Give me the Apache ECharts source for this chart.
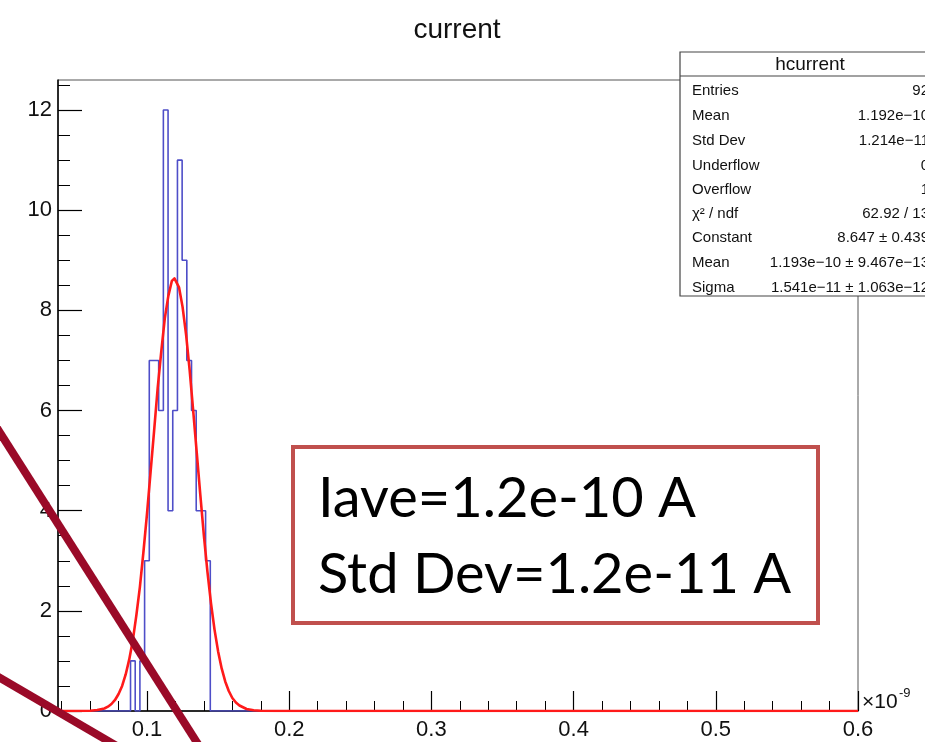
<!DOCTYPE html>
<html>
<head>
<meta charset="utf-8">
<script src="https://cdn.jsdelivr.net/npm/echarts@6/dist/echarts.min.js"></script>
<style>html,body{margin:0;padding:0;background:#fff}#c{width:925px;height:742px}</style>
</head>
<body>
<div id="c"></div>
<script>
// ---- data (x in units of 1e-9 A) ----
const binLowEdges = [0.0851, 0.0884, 0.0917, 0.0950, 0.0983, 0.1016, 0.1049, 0.1082, 0.1115,
                     0.1148, 0.1181, 0.1214, 0.1247, 0.1280, 0.1313, 0.1346, 0.1379, 0.1412];
const binHighEdge = 0.1445;
const binCounts   = [0, 1, 0, 1, 3, 7, 7, 6, 12, 4, 6, 11, 9, 7, 6, 4, 4, 3];
const fitX = [0.0374, 0.050, 0.060, 0.065, 0.070, 0.0725, 0.075, 0.0775, 0.080, 0.0825, 0.085, 0.0875,
              0.090, 0.0925, 0.095, 0.0975, 0.100, 0.1025, 0.105, 0.1075, 0.110, 0.1125, 0.115, 0.1175,
              0.1193, 0.120, 0.1225, 0.125, 0.1275, 0.130, 0.1325, 0.135, 0.1375, 0.140, 0.1425, 0.145,
              0.1475, 0.150, 0.1525, 0.155, 0.1575, 0.160, 0.1625, 0.165, 0.170, 0.175, 0.180, 0.190,
              0.300, 0.450, 0.600];
const fitY = [0.0, 0.0, 0.005, 0.02, 0.05, 0.086, 0.14, 0.22, 0.34, 0.50, 0.73, 1.03,
              1.41, 1.91, 2.48, 3.18, 3.94, 4.77, 5.60, 6.45, 7.17, 7.84, 8.29, 8.59,
              8.64, 8.64, 8.46, 8.07, 7.51, 6.80, 5.99, 5.15, 4.31, 3.50, 2.78, 2.15,
              1.62, 1.19, 0.85, 0.59, 0.40, 0.26, 0.17, 0.11, 0.04, 0.015, 0.004, 0.0,
              0.0, 0.0, 0.0];
const xTickLabels = [0.1, 0.2, 0.3, 0.4, 0.5, 0.6];
const xMinorTicks = [0.04, 0.06, 0.08, 0.12, 0.14, 0.16, 0.18, 0.22, 0.24, 0.26, 0.28, 0.32, 0.34, 0.36, 0.38,
                     0.42, 0.44, 0.46, 0.48, 0.52, 0.54, 0.56, 0.58];
const yTickLabels = [0, 2, 4, 6, 8, 10, 12];
const yMinorTicks = [0.5, 1, 1.5, 2.5, 3, 3.5, 4.5, 5, 5.5, 6.5, 7, 7.5, 8.5, 9, 9.5, 10.5, 11, 11.5, 12.5];
const statLabels = ['Entries', 'Mean', 'Std Dev', 'Underflow', 'Overflow', 'χ² / ndf', 'Constant', 'Mean', 'Sigma'];
const statValues = ['92', '1.192e−10', '1.214e−11', '0', '1', '62.92 / 13', '8.647 ± 0.439',
                    '1.193e−10 ± 9.467e−13', '1.541e−11 ± 1.063e−12'];
const X_MIN = 0.0374, X_MAX = 0.6, Y_MAX = 12.6;

// histogram outline as a step line
const histData = [[X_MIN, 0]];
binLowEdges.forEach((e, i) => histData.push([e, binCounts[i]]));
histData.push([binHighEdge, 0]);
histData.push([X_MAX, 0]);
const fitData = fitX.map((x, i) => [x, fitY[i]]);

const FONT = 'Liberation Sans';
const chart = echarts.init(document.getElementById('c'), null, {renderer: 'canvas'});

const statChildren = [
  {type: 'rect', shape: {x: 680, y: 52, width: 262, height: 244}, style: {fill: '#fff', stroke: '#444', lineWidth: 1.2}},
  {type: 'line', shape: {x1: 680, y1: 76, x2: 942, y2: 76}, style: {stroke: '#444', lineWidth: 1.2}},
  {type: 'text', x: 810, y: 65, style: {text: 'hcurrent', font: '19px ' + FONT, fill: '#111', align: 'center', verticalAlign: 'middle'}}
];
const rowY = [91, 116, 141, 166, 190, 214, 238, 263, 288];
statLabels.forEach((l, i) => {
  statChildren.push({type: 'text', x: 692, y: rowY[i], style: {text: l, font: '15px ' + FONT, fill: '#111', align: 'left', verticalAlign: 'middle'}});
  statChildren.push({type: 'text', x: 929, y: rowY[i], style: {text: statValues[i], font: '15px ' + FONT, fill: '#111', align: 'right', verticalAlign: 'middle'}});
});

const option = {
  animation: false,
  backgroundColor: '#fff',
  grid: {left: 58, right: 67, top: 80, bottom: 31, show: true, borderColor: '#555', borderWidth: 1, outerBoundsMode: 'none', containLabel: false},
  xAxis: [
    {type: 'value', min: X_MIN, max: X_MAX, position: 'bottom',
     axisLine: {show: true, onZero: false, lineStyle: {color: '#000', width: 1.5}},
     axisTick: {show: true, inside: true, length: 20, customValues: xTickLabels, lineStyle: {color: '#000', width: 1.2}},
     axisLabel: {show: true, customValues: xTickLabels, fontFamily: FONT, fontSize: 22, color: '#111', margin: 8},
     splitLine: {show: false}},
    {type: 'value', min: X_MIN, max: X_MAX, position: 'bottom',
     axisLine: {show: false, onZero: false},
     axisTick: {show: true, inside: true, length: 10, customValues: xMinorTicks, lineStyle: {color: '#000', width: 1}},
     axisLabel: {show: false}, splitLine: {show: false}}
  ],
  yAxis: [
    {type: 'value', min: 0, max: Y_MAX, position: 'left',
     axisLine: {show: true, onZero: false, lineStyle: {color: '#000', width: 1.5}},
     axisTick: {show: true, inside: true, length: 24, customValues: yTickLabels, lineStyle: {color: '#000', width: 1.2}},
     axisLabel: {show: true, customValues: yTickLabels, fontFamily: FONT, fontSize: 22, color: '#111', margin: 6},
     splitLine: {show: false}},
    {type: 'value', min: 0, max: Y_MAX, position: 'left',
     axisLine: {show: false, onZero: false},
     axisTick: {show: true, inside: true, length: 12, customValues: yMinorTicks, lineStyle: {color: '#000', width: 1}},
     axisLabel: {show: false}, splitLine: {show: false}}
  ],
  series: [
    {type: 'line', name: 'hcurrent', xAxisIndex: 0, yAxisIndex: 0, step: 'end', data: histData,
     showSymbol: false, symbol: 'none', lineStyle: {color: '#4e4ec8', width: 1.6}, z: 3},
    {type: 'line', name: 'gaus', xAxisIndex: 0, yAxisIndex: 0, data: fitData, smooth: false,
     showSymbol: false, symbol: 'none', lineStyle: {color: '#ff1a1a', width: 2.6, join: 'round'}, z: 4}
  ],
  graphic: [
    {type: 'text', x: 457, y: 30, style: {text: 'current', font: '28px ' + FONT, fill: '#111', align: 'center', verticalAlign: 'middle'}},
    {type: 'text', x: 862, y: 713, style: {text: '×10', font: '21px ' + FONT, fill: '#111', align: 'left', verticalAlign: 'bottom'}},
    {type: 'text', x: 899, y: 700, style: {text: '-9', font: '13px ' + FONT, fill: '#111', align: 'left', verticalAlign: 'bottom'}},
    {type: 'group', z: 50, children: statChildren},
    {type: 'rect', z: 60, shape: {x: 293, y: 447, width: 525, height: 176}, style: {fill: '#fff', stroke: '#c0504d', lineWidth: 4}},
    {type: 'text', z: 61, x: 318, y: 499, style: {text: 'Iave=1.2e-10 A', font: '56px Lato', fill: '#000', align: 'left', verticalAlign: 'middle'}},
    {type: 'text', z: 61, x: 318, y: 575, style: {text: 'Std Dev=1.2e-11 A', font: '56px Lato', fill: '#000', align: 'left', verticalAlign: 'middle'}},
    {type: 'line', z: 70, shape: {x1: -10, y1: 417, x2: 203, y2: 752}, style: {stroke: '#9a0a28', lineWidth: 8}},
    {type: 'line', z: 70, shape: {x1: -10, y1: 672, x2: 127, y2: 752}, style: {stroke: '#9a0a28', lineWidth: 8}}
  ]
};
chart.setOption(option);
</script>
</body>
</html>
